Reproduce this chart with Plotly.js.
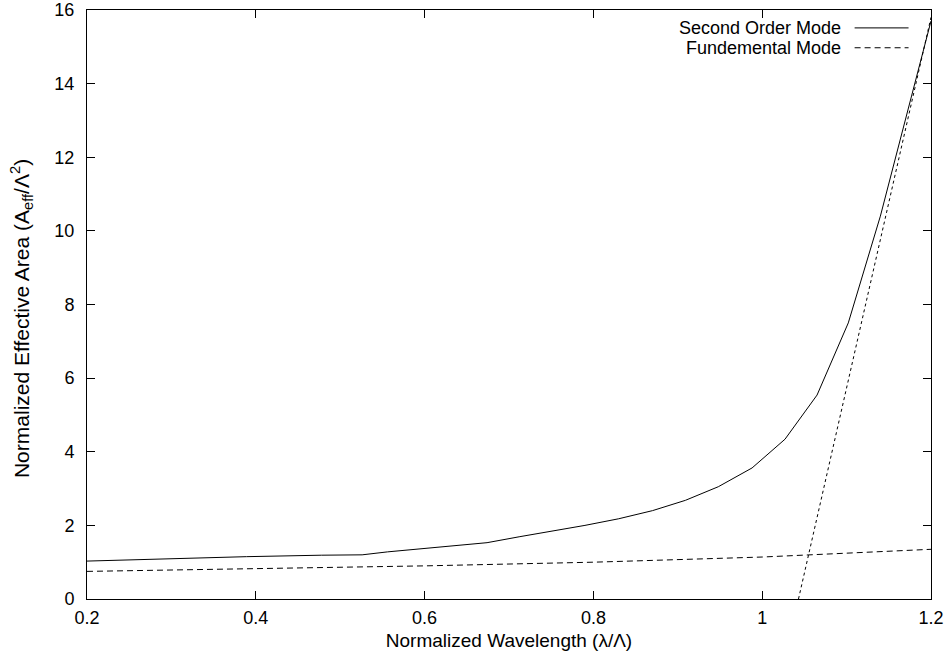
<!DOCTYPE html>
<html>
<head>
<meta charset="utf-8">
<script src="https://cdn.plot.ly/plotly-3.0.1.min.js"></script>
<style>html,body{margin:0;padding:0;background:#fff}#chart{width:950px;height:664px}</style>
</head>
<body>
<div id="chart"></div>
<script>
// Second order mode
const secondX = [0.2, 0.29, 0.389, 0.478, 0.526, 0.556, 0.595, 0.634, 0.674, 0.712, 0.752, 0.79, 0.83, 0.87, 0.909, 0.948, 0.988, 1.027, 1.065, 1.102, 1.14, 1.2];
const secondY = [1.03, 1.09, 1.15, 1.19, 1.20, 1.28, 1.36, 1.43, 1.53, 1.69, 1.84, 2.0, 2.18, 2.40, 2.68, 3.05, 3.56, 4.34, 5.54, 7.5, 10.4, 15.7];
// Fundamental mode
const fundX = [0.2, 0.4, 0.6, 0.8, 1.0, 1.2];
const fundY = [0.75, 0.82, 0.90, 1.0, 1.14, 1.35];
// Steep dotted line
const steepX = [1.043, 1.2];
const steepY = [0, 15.8];

const xTickVals = [0.2, 0.4, 0.6, 0.8, 1, 1.2];
const yTickVals = [0, 2, 4, 6, 8, 10, 12, 14, 16];

const FONT = 'Liberation Sans, Arial, sans-serif';

const traces = [
  {x: secondX, y: secondY, mode: 'lines', name: 'Second Order Mode', line: {color: '#000', width: 1}, showlegend: false},
  {x: fundX, y: fundY, mode: 'lines', name: 'Fundemental Mode', line: {color: '#000', width: 1, dash: '6px,4px'}, showlegend: false},
  {x: steepX, y: steepY, mode: 'lines', name: '', line: {color: '#000', width: 1, dash: '3px,3px'}, showlegend: false}
];

const axisCommon = {
  showgrid: false, zeroline: false, showline: true, mirror: 'allticks',
  linecolor: '#000', linewidth: 1, ticks: 'inside', ticklen: 8, tickcolor: '#000', tickwidth: 1,
  tickfont: {family: FONT, size: 18, color: '#000'}, ticklabeloverflow: 'allow'
};

const layout = {
  width: 950, height: 664,
  margin: {l: 87, r: 19, t: 10, b: 65},
  paper_bgcolor: '#fff', plot_bgcolor: '#fff',
  showlegend: false,
  xaxis: Object.assign({}, axisCommon, {
    range: [0.2, 1.2], tickvals: xTickVals, ticktext: xTickVals.map(String), ticklabelstandoff: 2,
    title: {text: 'Normalized Wavelength (λ/Λ)', font: {family: FONT, size: 19, color: '#000'}, standoff: 7}
  }),
  yaxis: Object.assign({}, axisCommon, {
    range: [0, 16], tickvals: yTickVals, ticklabelstandoff: 8
  }),
  annotations: [
    {xref: 'paper', yref: 'paper', x: -0.0782, y: 0.477, xanchor: 'center', yanchor: 'middle', textangle: -90,
     text: 'Normalized Effective Area (A<sub>eff</sub>/Λ<sup>2</sup>)', showarrow: false, font: {family: FONT, size: 21, color: '#000'}},
    {xref: 'paper', yref: 'paper', x: 0.896, y: 0.9696, xanchor: 'right', yanchor: 'middle', text: 'Second Order Mode', showarrow: false, font: {family: FONT, size: 18, color: '#000'}},
    {xref: 'paper', yref: 'paper', x: 0.896, y: 0.9359, xanchor: 'right', yanchor: 'middle', text: 'Fundemental Mode', showarrow: false, font: {family: FONT, size: 18, color: '#000'}}
  ],
  shapes: [
    {type: 'line', xref: 'paper', yref: 'paper', x0: 0.9095, x1: 0.9734, y0: 0.9696, y1: 0.9696, line: {color: '#000', width: 1}},
    {type: 'line', xref: 'paper', yref: 'paper', x0: 0.9095, x1: 0.9734, y0: 0.9359, y1: 0.9359, line: {color: '#000', width: 1, dash: '6px,4px'}}
  ]
};

Plotly.newPlot('chart', traces, layout, {displayModeBar: false, staticPlot: true});
</script>
</body>
</html>
